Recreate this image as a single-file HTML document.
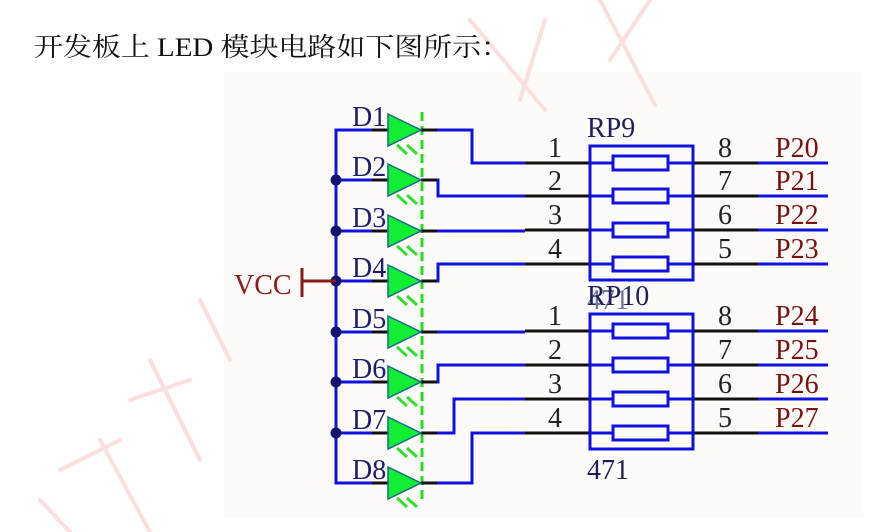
<!DOCTYPE html>
<html><head><meta charset="utf-8"><style>
html,body{margin:0;padding:0;background:#fff;width:878px;height:532px;overflow:hidden}
</style></head><body>
<svg width="878" height="532" viewBox="0 0 878 532" xmlns="http://www.w3.org/2000/svg">
<rect x="0" y="0" width="878" height="532" fill="#fff"/>
<rect x="224" y="72" width="638" height="446" fill="#fdfbf7"/>
<g stroke="#fbdede" stroke-width="4" fill="none" stroke-linecap="round">
<path d="M470 20 L545 110"/><path d="M545 20 L520 100"/><path d="M600 0 L655 105"/><path d="M650 0 L610 60"/>
<path d="M40 500 L70 532"/><path d="M100 440 L150 532"/><path d="M150 360 L200 460"/><path d="M200 300 L230 360"/>
<path d="M60 470 L120 440"/><path d="M130 400 L190 380"/>
</g>
<text x="34" y="56" font-family="'Liberation Serif','Noto Serif CJK SC',serif" font-size="26" fill="#111" textLength="476" lengthAdjust="spacingAndGlyphs">开发板上 LED 模块电路如下图所示：</text>

<g font-family="'Liberation Serif',serif" font-size="28">
<path d="M388 130 H336 V483 H388" stroke="#1010e0" stroke-width="3" fill="none"/>
<g stroke="#1010e0" stroke-width="3" fill="none">
<path d="M336 180 H388"/><path d="M336 231 H388"/><path d="M336 281 H388"/><path d="M336 332 H388"/><path d="M336 382 H388"/><path d="M336 433 H388"/>
<path d="M437 130 H472 V163 H525"/>
<path d="M437 180 H438 V196 H525"/>
<path d="M437 231 H525"/>
<path d="M437 281 H438 V264 H525"/>
<path d="M437 332 H525"/>
<path d="M437 382 H438 V365 H525"/>
<path d="M437 433 H454 V399 H525"/>
<path d="M437 483 H472 V433 H525"/>
</g>
<g fill="#141470">
<circle cx="336" cy="180" r="5.5"/><circle cx="336" cy="231" r="5.5"/><circle cx="336" cy="281" r="5.5"/><circle cx="336" cy="332" r="5.5"/><circle cx="336" cy="382" r="5.5"/><circle cx="336" cy="433" r="5.5"/>
</g>
<path d="M302 268 V297 M302 281 H336" stroke="#8b1a1a" stroke-width="3" fill="none"/>
<text x="234" y="294" fill="#8b1a1a">VCC</text>
<line x1="422" y1="112" x2="422" y2="502" stroke="#22dd22" stroke-width="3" stroke-dasharray="9,5"/>
<g stroke="#111" stroke-width="3">
<path d="M372 130H388M421 130H437M372 180H388M421 180H437M372 231H388M421 231H437M372 281H388M421 281H437M372 332H388M421 332H437M372 382H388M421 382H437M372 433H388M421 433H437M372 483H388M421 483H437"/>
</g>
<g fill="#11ee33" stroke="#1a6a8a" stroke-width="1.5">
<path d="M388 114 L421 130 L388 146Z"/><path d="M388 164 L421 180 L388 196Z"/><path d="M388 215 L421 231 L388 247Z"/><path d="M388 265 L421 281 L388 297Z"/>
<path d="M388 316 L421 332 L388 348Z"/><path d="M388 366 L421 382 L388 398Z"/><path d="M388 417 L421 433 L388 449Z"/><path d="M388 467 L421 483 L388 499Z"/>
</g>
<g stroke="#33dd33" stroke-width="3">
<path d="M397 145 l10 9 M407 145 l10 9 M397 195 l10 9 M407 195 l10 9 M397 246 l10 9 M407 246 l10 9 M397 296 l10 9 M407 296 l10 9 M397 347 l10 9 M407 347 l10 9 M397 397 l10 9 M407 397 l10 9 M397 448 l10 9 M407 448 l10 9 M397 498 l10 9 M407 498 l10 9"/>
</g>
<g fill="#1e1e6e">
<text x="352" y="126">D1</text><text x="352" y="176">D2</text><text x="352" y="227">D3</text><text x="352" y="277">D4</text>
<text x="352" y="328">D5</text><text x="352" y="378">D6</text><text x="352" y="429">D7</text><text x="352" y="479">D8</text>
</g>
<g stroke="#111" stroke-width="3">
<path d="M525 163H590M525 196H590M525 230H590M525 264H590M525 331H590M525 365H590M525 399H590M525 433H590"/>
<path d="M693 163H758M693 196H758M693 230H758M693 264H758M693 331H758M693 365H758M693 399H758M693 433H758"/>
</g>
<g stroke="#1010e0" stroke-width="3" fill="none">
<path d="M758 163H828M758 196H828M758 230H828M758 264H828M758 331H828M758 365H828M758 399H828M758 433H828"/>
<rect x="590" y="146" width="103" height="134"/>
<rect x="590" y="314" width="103" height="135"/>
<path d="M590 163H613M668 163H693M590 196H613M668 196H693M590 230H613M668 230H693M590 264H613M668 264H693"/>
<path d="M590 331H613M668 331H693M590 365H613M668 365H693M590 399H613M668 399H693M590 433H613M668 433H693"/>
<rect x="613" y="156" width="55" height="14"/><rect x="613" y="189" width="55" height="14"/><rect x="613" y="223" width="55" height="14"/><rect x="613" y="257" width="55" height="14"/>
<rect x="613" y="324" width="55" height="14"/><rect x="613" y="358" width="55" height="14"/><rect x="613" y="392" width="55" height="14"/><rect x="613" y="426" width="55" height="14"/>
</g>
<g fill="#1e1e5e">
<text x="587" y="137">RP9</text><text x="587" y="305">RP10</text><text x="587" y="309" opacity="0.6">471</text><text x="587" y="479">471</text>
</g>
<g fill="#222">
<text x="548" y="157">1</text><text x="548" y="190">2</text><text x="548" y="224">3</text><text x="548" y="258">4</text>
<text x="548" y="325">1</text><text x="548" y="359">2</text><text x="548" y="393">3</text><text x="548" y="427">4</text>
<text x="718" y="157">8</text><text x="718" y="190">7</text><text x="718" y="224">6</text><text x="718" y="258">5</text>
<text x="718" y="325">8</text><text x="718" y="359">7</text><text x="718" y="393">6</text><text x="718" y="427">5</text>
</g>
<g fill="#7a1010">
<text x="775" y="157">P20</text><text x="775" y="190">P21</text><text x="775" y="224">P22</text><text x="775" y="258">P23</text>
<text x="775" y="325">P24</text><text x="775" y="359">P25</text><text x="775" y="393">P26</text><text x="775" y="427">P27</text>
</g>
</g>
</svg>
</body></html>
